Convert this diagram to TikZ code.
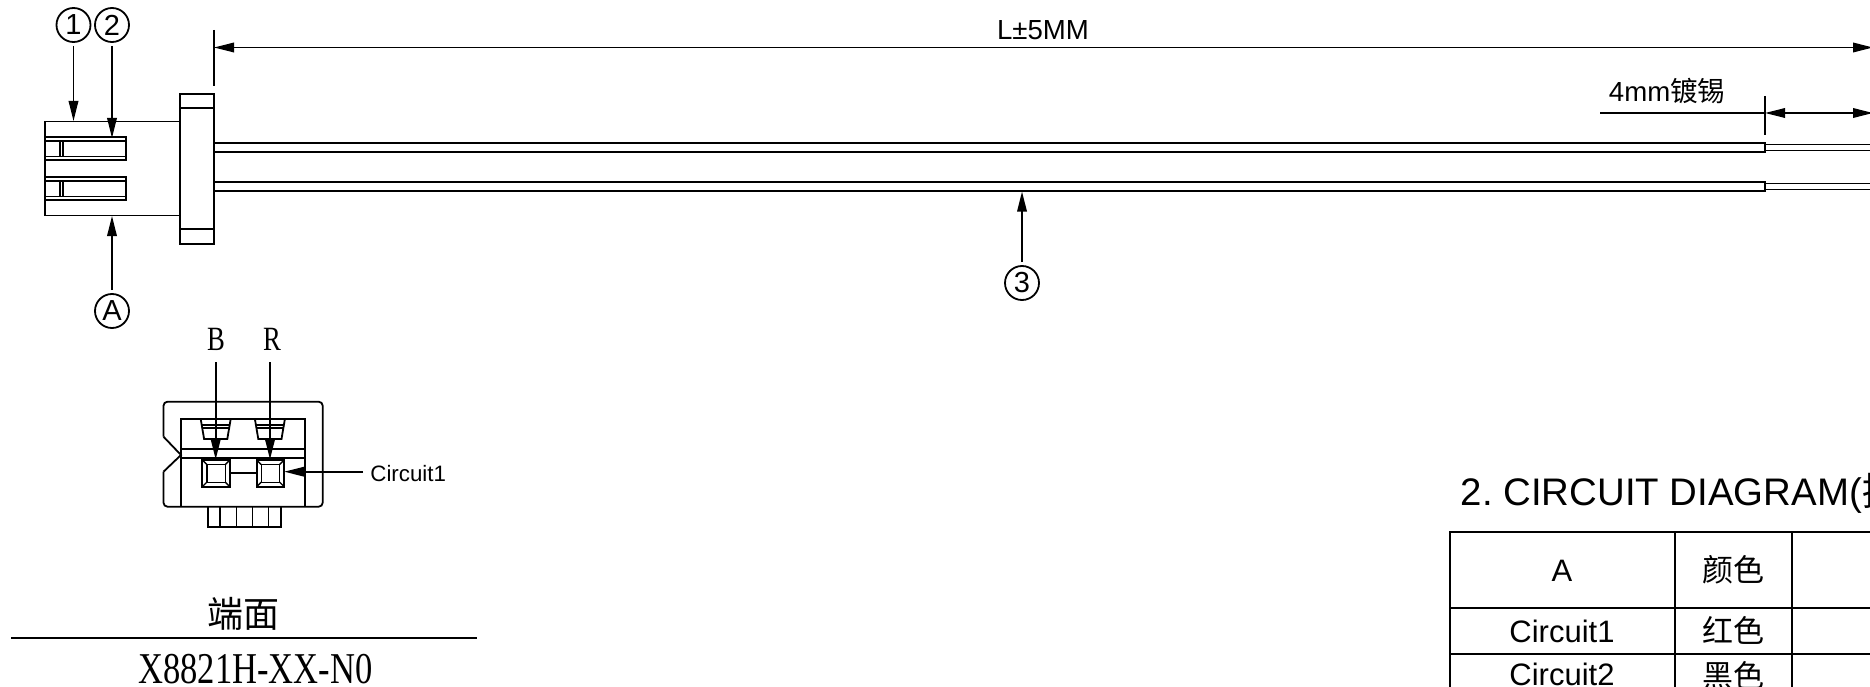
\documentclass[tikz,border=0pt]{standalone}
\usepackage{fontspec}
\setmainfont{Liberation Sans}
\newfontfamily\cjk{Noto Sans CJK SC}
\newfontfamily\narrowserif[FakeStretch=0.785]{Liberation Serif}
\usetikzlibrary{arrows.meta}

\begin{document}
\begin{tikzpicture}[
		x=1pt, y=-1pt
		,line width=1.8pt
		,callout/.style={draw, circle, inner sep=0pt, minimum size=34pt, font=\fontsize{29}{29}\selectfont}
		,pointer/.style={-{Triangle[length=20pt, width=9.5pt]}, shorten <=3pt}
		,dimline/.style={{Triangle[length=20pt, width=9.5pt]}-{Triangle[length=20pt, width=9.5pt]}}
		,txt/.style={inner sep=0pt, anchor=base}
		,thin part/.style={line width=1.4pt}
	]
		\useasboundingbox (0,0) rectangle (1870,687);
		\clip (0,0) rectangle (1870,687);

		% connector, side view
		\draw (45,121.5) rectangle (180,215.5);
		\draw (180,94) rectangle (214,244);
		\draw (180,108) -- (214,108);
		\draw (180,229) -- (214,229);
		\foreach \y in {137,177} {
			\draw (45,\y) -- (126,\y) -- (126,\y+23) -- (45,\y+23);
			\draw[thin part] (45,\y+4) -- (126,\y+4);
			\draw[thin part] (45,\y+19.5) -- (126,\y+19.5);
			\draw[thin part] (60,\y+4) -- (60,\y+19.5);
			\draw[thin part] (63,\y+4) -- (63,\y+19.5);
		}

		% wires
		\foreach \y in {143,182} {
			\draw (214,\y) -- (1765,\y) -- (1765,\y+9) -- (214,\y+9);
			\draw (1765,\y+1.5) -- (1870,\y+1.5);
			\draw (1765,\y+7.5) -- (1870,\y+7.5);
		}

		% callouts
		\node[callout] (one) at (73.5,25) {1};
		\node[callout] (two) at (112,25) {2};
		\node[callout] (three) at (1022,283) {3};
		\node[callout] (housing) at (112,311) {A};
		\coordinate (oneTip) at (73.5,121);
		\coordinate (twoTip) at (112,138);
		\coordinate (threeTip) at (1022,191.5);
		\coordinate (housingTip) at (112,216);
		\draw[pointer] (one) -- (oneTip);
		\draw[pointer] (two) -- (twoTip);
		\draw[pointer] (three) -- (threeTip);
		\draw[pointer] (housing) -- (housingTip);

		% dimensions
		\coordinate (lenA) at (214,47.5);
		\coordinate (lenB) at (1873,47.5);
		\coordinate (tinA) at (1765,113);
		\coordinate (tinB) at (1873,113);
		\coordinate (leader) at (1600,113);
		\draw (214,30) -- (214,86);
		\draw (1765,96) -- (1765,135);
		\draw[dimline] (lenA) -- (lenB);
		\draw[dimline] (tinA) -- (tinB);
		\draw (leader) -- (tinA);
		\node[txt] (len) at (1043,39.5) {\fontsize{27.6}{28}\selectfont L±5MM};
		\node[txt, anchor=base west] (tin) at (1608,102) {\fontsize{27.6}{28}\selectfont 4mm{\cjk 镀锡}};

		% end view
		\draw[rounded corners=4pt] (163.5,436.7) -- (163.5,401.7) -- (322.7,401.7) -- (322.7,506.7) -- (163.5,506.7) -- (163.5,471.7);
		\draw (163.5,436.7) -- (181,455) -- (163.5,471.7);
		\draw (181,506.7) -- (181,419) -- (305,419) -- (305,506.7);
		\draw (181,449.3) -- (305,449.3);
		\draw (181,458.3) -- (305,458.3);
		\draw (207.7,506.7) -- (207.7,527.3) -- (281,527.3) -- (281,506.7);
		\foreach \x in {220,236.7,252.7,268.3} {
			\draw[thin part] (\x,506.7) -- (\x,527.3);
		}
		\foreach \x in {200.7,254.9} {
			\draw (\x,419) -- (\x+3.4,439) -- (\x+26.6,439) -- (\x+30,419);
			\draw[thin part] (\x+1,425) -- (\x+29,425);
			\draw[thin part] (\x+1.4,428) -- (\x+28.6,428);
		}
		\foreach \x in {202.3,256.7} {
			\draw (\x,460) rectangle (\x+27.5,486.7);
			\draw[thin part] (\x+4.5,464.5) rectangle (\x+23,482.2);
			\draw[thin part] (\x,460) -- (\x+4.5,464.5);
			\draw[thin part] (\x+27.5,460) -- (\x+23,464.5);
			\draw[thin part] (\x,486.7) -- (\x+4.5,482.2);
			\draw[thin part] (\x+27.5,486.7) -- (\x+23,482.2);
		}
		\draw (229.8,473.3) -- (256.7,473.3);

		\node[txt] (black) at (216,350) {\fontsize{34}{34}\narrowserif B};
		\node[txt] (red) at (272,350) {\fontsize{34}{34}\narrowserif R};
		\node[txt, anchor=base west] (circuit) at (369.5,481) {\fontsize{22.3}{22}\selectfont Circuit1};
		\coordinate (blackTop) at (215.7,362);
		\coordinate (redTop) at (270,362);
		\coordinate (blackTip) at (215.7,459.5);
		\coordinate (redTip) at (270,459.5);
		\coordinate (circuitEnd) at (363,471.7);
		\coordinate (circuitTip) at (284.2,471.7);
		\draw[pointer, shorten <=0pt] (blackTop) -- (blackTip);
		\draw[pointer, shorten <=0pt] (redTop) -- (redTip);
		\draw[pointer, shorten <=0pt] (circuitEnd) -- (circuitTip);

		\node[txt] (face) at (243,627) {\fontsize{36}{36}\selectfont\cjk 端面};
		\draw (11,638) -- (477,638);
		\node[txt] (part) at (255.5,683) {\fontsize{44}{44}\narrowserif X8821H-XX-N0};

		% circuit table
		\node[txt, anchor=base west] (title) at (1460,505) {\fontsize{38.4}{38}\selectfont 2.\ CIRCUIT DIAGRAM({\cjk 接}};
		\draw (1450,690) -- (1450,531.7) -- (1873,531.7);
		\draw (1450,608.3) -- (1873,608.3);
		\draw (1450,654.3) -- (1873,654.3);
		\draw (1675,531.7) -- (1675,690);
		\draw (1791.7,531.7) -- (1791.7,690);
		\node[txt] (headA) at (1562,581.7) {\fontsize{31}{31}\selectfont A};
		\node[txt] (headColor) at (1733,581.7) {\fontsize{31}{31}\selectfont\cjk 颜色};
		\node[txt] (rowOne) at (1562,642.7) {\fontsize{31}{31}\selectfont Circuit1};
		\node[txt] (colorOne) at (1733,642.7) {\fontsize{31}{31}\selectfont\cjk 红色};
		\node[txt] (rowTwo) at (1562,685.7) {\fontsize{31}{31}\selectfont Circuit2};
		\node[txt] (colorTwo) at (1733,687) {\fontsize{31}{31}\selectfont\cjk 黑色};
	\end{tikzpicture}
\end{document}
